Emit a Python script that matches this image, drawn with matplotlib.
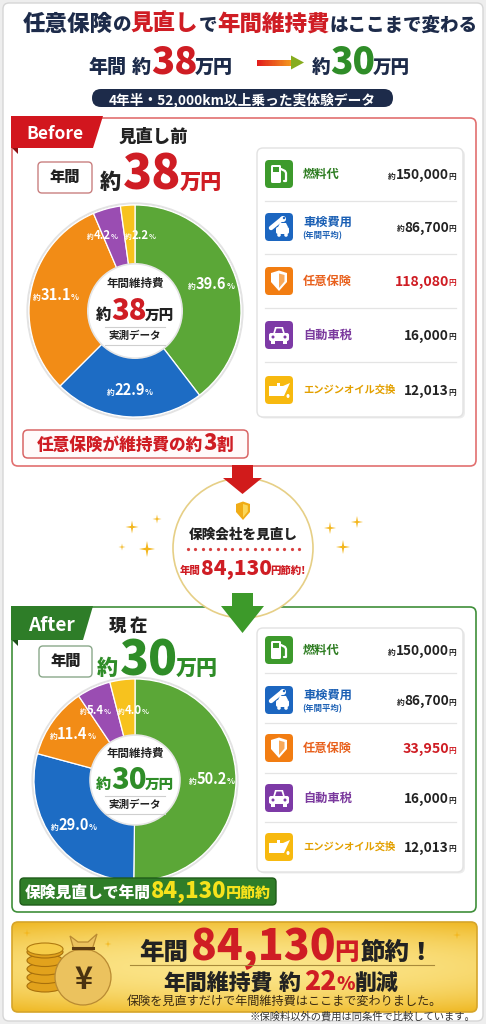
import matplotlib
matplotlib.use('Agg')
import matplotlib.pyplot as plt
from matplotlib.patches import FancyBboxPatch, Rectangle, Polygon, Circle, Ellipse
from matplotlib.colors import LinearSegmentedColormap
import numpy as np

W, H = 486, 1024
JP = ['Noto Sans CJK JP', 'DejaVu Sans']
plt.rcParams['font.family'] = JP

# ---------------- data ----------------
categories = ['燃料代', '車検費用', '任意保険', '自動車税', 'エンジンオイル交換']
category_note = ['', '(年間平均)', '', '', '']
before_costs = [150000, 86700, 118080, 16000, 12013]
after_costs = [150000, 86700, 33950, 16000, 12013]
cost_approx = [True, True, False, False, False]
before_share = [39.6, 22.9, 31.1, 4.2, 2.2]
after_share = [50.2, 29.0, 11.4, 5.4, 4.0]
before_total = '38'
after_total = '30'
saving = '84,130'
reduction = '22'
share_note = '3'

# ---------------- styles ----------------
NAVY = '#1d2b4a'
RED = '#cf1d24'
GREEN = '#2f8d28'
DARK = '#222222'
pie_colors = ['#5ba737', '#1d6cc4', '#f28c16', '#9a4db2', '#f7c21e']
icon_colors = ['#3d9a2c', '#1c66c0', '#f27d12', '#7d3aa6', '#f7b90f']
label_colors = ['#2e7d22', '#1a5fb4', '#e8601c', '#7b3a9e', '#e3a000']
icon_kinds = ['fuel', 'wrench', 'shield', 'car', 'oil']
HB = 'heavy'

fig = plt.figure(figsize=(W / 100, H / 100), dpi=100, facecolor='#eeeeee')
axb = fig.add_axes([0, 0, 1, 1], zorder=0)
axf = fig.add_axes([0, 0, 1, 1], zorder=2)
for a in (axb, axf):
    a.set_xlim(0, W); a.set_ylim(H, 0); a.axis('off')
    a.patch.set_alpha(0)
fig.canvas.draw()
R = fig.canvas.get_renderer()


def runs(x, y, parts, ha='center', width=None, va='baseline', ax=None, zorder=6):
    ax = ax or axf

    def make(sc):
        objs, ws = [], []
        for p in parts:
            if isinstance(p, (int, float)):
                objs.append(None); ws.append(p); continue
            t, s, c, w = p
            o = ax.text(0, y, t, fontsize=s * sc, color=c, fontweight=w, va=va,
                        ha='left', zorder=zorder, family=JP)
            objs.append(o)
            ws.append(o.get_window_extent(renderer=R).width)
        return objs, ws

    objs, ws = make(1.0)
    if width is not None:
        gaps = sum(w for o, w in zip(objs, ws) if o is None)
        tw = sum(w for o, w in zip(objs, ws) if o is not None)
        sc = (width - gaps) / tw
        for o in objs:
            if o is not None:
                o.remove()
        objs, ws = make(sc)
    total = sum(ws)
    x0 = x - total / 2 if ha == 'center' else (x - total if ha == 'right' else x)
    for o, w in zip(objs, ws):
        if o is not None:
            o.set_x(x0)
        x0 += w
    return objs


def rbox(ax, x0, y0, x1, y1, fc, ec, lw=1.0, r=5, z=1):
    p = FancyBboxPatch((x0, y0), x1 - x0, y1 - y0,
                       boxstyle=f'round,pad=0,rounding_size={r}',
                       fc=fc, ec=ec, lw=lw, zorder=z)
    ax.add_patch(p)
    return p


# ---------------- background card ----------------
rbox(axb, 3, 3, 483, 1021, 'white', '#d6d6d6', lw=1, r=6, z=0)

# ---------------- header ----------------
runs(250, 31, [('任意保険', 17, NAVY, HB), ('の', 14, NAVY, HB),
               ('見直し', 17, RED, HB), ('で', 14, NAVY, HB),
               ('年間維持費', 17, RED, HB), ('はここまで変わる', 14, NAVY, HB)],
     width=456)
runs(88, 73, [('年間', 14, NAVY, HB), 6, ('約', 14, NAVY, HB),
              ('38', 28, RED, HB), -3, ('万円', 14, NAVY, HB)], ha='left', width=145)
runs(312, 73, [('約', 14, NAVY, HB), ('30', 28, GREEN, HB), -3,
               ('万円', 14, NAVY, HB)], ha='left', width=98)
# gradient arrow
cm = LinearSegmentedColormap.from_list('ar', ['#e21d1d', '#f39a1e'])
n = 30
xs = np.linspace(257, 292, n + 1)
for i in range(n):
    axf.add_patch(Rectangle((xs[i], 59.5), xs[i + 1] - xs[i] + 0.3, 6,
                            fc=cm(i / (n - 1)), ec='none', zorder=4))
axf.add_patch(Polygon([(291, 55.5), (304, 62.5), (291, 69.5)], fc='#86ac1e', ec='none', zorder=4))
# pill
rbox(axb, 92, 89, 393, 107, NAVY, 'none', r=9, z=1)
runs(242, 98.5, [('4年半・52,000km以上乗った実体験データ', 9, 'white', 'bold')],
     va='center_baseline', width=266)


# ---------------- icons ----------------
def icon(kind, x, y, color, s=28):
    rbox(axf, x - s / 2, y - s / 2, x + s / 2, y + s / 2, color, 'none', r=4, z=3)
    wc = 'white'
    if kind == 'fuel':
        rbox(axf, x - 8, y - 9, x + 2, y + 9, wc, 'none', r=1.5, z=4)
        axf.add_patch(Rectangle((x - 6, y - 7), 6, 5, fc=color, ec='none', zorder=5))
        axf.plot([x + 2, x + 6, x + 7, x + 7, x + 5], [y - 5, y - 3, y - 1, y + 7, y + 7],
                 color=wc, lw=1.6, zorder=4, solid_capstyle='round')
    elif kind == 'wrench':
        axf.plot([x - 8, x + 3], [y + 1, y - 8], color=wc, lw=3.2, solid_capstyle='round', zorder=4)
        axf.add_patch(Circle((x + 4, y - 8), 3, fc=wc, ec='none', zorder=4))
        axf.add_patch(Circle((x + 5, y - 9), 1.2, fc=color, ec='none', zorder=5))
        rbox(axf, x - 3, y + 0, x + 10, y + 7, wc, 'none', r=2, z=4)
        axf.add_patch(Polygon([(x - 1, y), (x + 1, y - 4), (x + 7, y - 4), (x + 9, y)], fc=wc, zorder=4))
        axf.add_patch(Circle((x, y + 8), 1.8, fc=wc, zorder=4))
        axf.add_patch(Circle((x + 7, y + 8), 1.8, fc=wc, zorder=4))
    elif kind == 'shield':
        pts = [(x - 8, y - 8), (x, y - 10.5), (x + 8, y - 8), (x + 8, y + 1), (x, y + 10), (x - 8, y + 1)]
        axf.add_patch(Polygon(pts, fc=wc, ec='none', zorder=4))
        pts2 = [(x, y - 7.5), (x + 5.5, y - 6), (x + 5.5, y + 0.5), (x, y + 7)]
        axf.add_patch(Polygon(pts2, fc='#f8a95a', ec='none', zorder=5))
    elif kind == 'car':
        axf.add_patch(Polygon([(x - 6, y - 1), (x - 4, y - 8), (x + 4, y - 8), (x + 6, y - 1)], fc=wc, zorder=4))
        axf.add_patch(Polygon([(x - 4, y - 2), (x - 2.5, y - 6.5), (x + 2.5, y - 6.5), (x + 4, y - 2)],
                              fc=color, zorder=5))
        rbox(axf, x - 10, y - 2, x + 10, y + 6, wc, 'none', r=2, z=4)
        axf.add_patch(Rectangle((x - 8, y + 5), 4, 4, fc=wc, zorder=4))
        axf.add_patch(Rectangle((x + 4, y + 5), 4, 4, fc=wc, zorder=4))
        axf.add_patch(Circle((x - 6, y + 2), 1.5, fc=color, zorder=5))
        axf.add_patch(Circle((x + 6, y + 2), 1.5, fc=color, zorder=5))
    elif kind == 'oil':
        axf.add_patch(Polygon([(x - 10, y - 4), (x - 2, y - 4), (x - 2, y - 7), (x + 1, y - 7), (x + 1, y - 4),
                               (x + 4, y - 4), (x + 11, y - 7), (x + 5, y + 6), (x - 10, y + 6)],
                              fc=wc, ec='none', zorder=4))
        axf.add_patch(Ellipse((x + 9, y + 6), 3, 4, fc=wc, zorder=4))


def cost_list(top, bottom, centers, seps, costs, ins_color):
    rbox(axb, 259, top + 1.5, 465, bottom + 1.5, '#ececec', 'none', r=6, z=1)
    rbox(axb, 257, top, 463, bottom, 'white', '#e2e2e2', lw=1, r=6, z=2)
    for s in seps:
        axb.plot([265, 456], [s, s], color='#e4e4e4', lw=0.9, zorder=3)
    for i, cy in enumerate(centers):
        icon(icon_kinds[i], 279, cy, icon_colors[i])
        fs = 7.4 if len(categories[i]) > 6 else 8.8
        if category_note[i]:
            axf.text(303, cy - 5, categories[i], fontsize=fs, color=label_colors[i],
                     fontweight='bold', va='center', ha='left', zorder=6)
            axf.text(302, cy + 9, category_note[i], fontsize=6, color=label_colors[i],
                     fontweight='bold', va='center', ha='left', zorder=6)
        else:
            axf.text(303, cy, categories[i], fontsize=fs, color=label_colors[i],
                     fontweight='bold', va='center', ha='left', zorder=6)
        vc = ins_color if i == 2 else DARK
        parts = []
        if cost_approx[i]:
            parts.append(('約', 5.5, DARK, 'bold'))
        parts += [(f'{costs[i]:,}', 10.2 if i == 2 else 9.8, vc, 'bold'), -0.5, ('円', 5.5, vc, 'bold')]
        runs(456, cy + 4.5, parts, ha='right')


def donut(cx, cy, r, shares, total, tcol, ucol):
    m = 1.06
    pa = fig.add_axes([(cx - r * m) / W, 1 - (cy + r * m) / H, 2 * r * m / W, 2 * r * m / H], zorder=1)
    wedges, _ = pa.pie(shares, colors=pie_colors, startangle=90, counterclock=False, radius=1,
                       wedgeprops=dict(width=0.57, edgecolor='white', linewidth=0.9))
    pa.add_patch(Circle((0, 0), 1.015, fc='none', ec='#e3e3e3', lw=1.5, zorder=0))
    pa.add_patch(Circle((0, 0), 0.445, fc='white', ec='#e6e6e6', lw=1.2, zorder=3))
    pa.set_xlim(-m, m); pa.set_ylim(-m, m); pa.set_aspect('equal'); pa.axis('off')
    # labels
    pos = []
    for w, s in zip(wedges, shares):
        a = np.deg2rad((w.theta1 + w.theta2) / 2)
        rl = 0.76 * r
        pos.append([cx + rl * np.cos(a), cy - rl * np.sin(a)])
    small = [i for i, s in enumerate(shares) if s < 8]
    sep = 38
    for i, j in zip(small[:-1], small[1:]):
        d = pos[i][0] - pos[j][0]
        if abs(d) < sep:
            mid = (pos[i][0] + pos[j][0]) / 2
            sgn = 1 if d >= 0 else -1
            pos[i][0] = mid + sgn * sep / 2
            pos[j][0] = mid - sgn * sep / 2
            pos[i][1] = pos[j][1] = (pos[i][1] + pos[j][1]) / 2 + 3
    for (px, py), s in zip(pos, shares):
        big = s >= 8
        runs(px, py + 4, [('約', 5.5 if big else 4.8, 'white', 'bold'),
                          (f'{s:.1f}', 10.5 if big else 8.2, 'white', 'bold'),
                          ('%', 6 if big else 5.2, 'white', 'bold')])
    # centre text
    axf.text(cx, cy - 27, '年間維持費', fontsize=8.3, color=DARK, fontweight='bold',
             ha='center', va='center', zorder=6)
    runs(cx, cy + 9, [('約', 11, ucol, HB), (total, 21, tcol, HB), -2,
                      ('万円', 10.5, ucol, HB)], width=78)
    axf.plot([cx - 30, cx + 30], [cy + 16, cy + 16], color='#cfcfcf', lw=0.8, zorder=6)
    axf.plot([cx - 30, cx + 30], [cy + 34, cy + 34], color='#cfcfcf', lw=0.8, zorder=6)
    axf.text(cx, cy + 25, '実測データ', fontsize=7.6, color=DARK, fontweight='bold',
             ha='center', va='center', zorder=6)


# ---------------- BEFORE panel ----------------
rbox(axb, 12, 118, 476, 466, 'white', '#e27070', lw=1.2, r=6, z=1)
axf.add_patch(Polygon([(12, 148), (18, 148), (18, 154)], fc='#8c1014', ec='none', zorder=3))
axf.add_patch(Polygon([(11, 116), (103, 116), (93, 148), (11, 148)], fc='#d2161e', ec='none', zorder=3))
runs(55, 139, [('Before', 13, 'white', 'bold')], width=57)
axf.text(153, 137, '見直し前', fontsize=12.5, color=DARK, fontweight=HB, ha='center', va='center')
rbox(axf, 38, 162, 92, 193, 'white', '#c98080', lw=1, r=4, z=3)
axf.text(65, 177.5, '年間', fontsize=11, color=DARK, fontweight=HB, ha='center', va='center', zorder=6)
runs(100, 189, [('約', 15, DARK, HB), 2, (before_total, 34, RED, HB), -2,
                ('万円', 15, RED, HB)], ha='left', width=122)
donut(135, 311, 106, before_share, before_total, RED, DARK)
cost_list(148, 417, [174, 227, 281, 335, 390], [201, 254, 308, 362], before_costs, RED)
rbox(axf, 23, 430, 248, 458, '#fffafa', '#d96666', lw=1.1, r=5, z=3)
runs(135, 450, [('任意保険が維持費の約', 12, RED, HB), (share_note, 16, RED, HB),
                ('割', 12, RED, HB)], width=196)

# ---------------- middle ----------------
axf.add_patch(Circle((243, 548), 70, fc='white', ec='#e6cf86', lw=1.2, zorder=3))
axf.add_patch(Polygon([(232, 465), (253, 465), (253, 478), (262, 478), (242.5, 494), (223, 478), (232, 478)],
                      fc='#d11b1b', ec='none', zorder=4))
# shield
sx, sy = 243, 511
axf.add_patch(Polygon([(sx - 7, sy - 7), (sx, sy - 9.5), (sx + 7, sy - 7), (sx + 7, sy + 1), (sx, sy + 9),
                       (sx - 7, sy + 1)], fc='#f0ac16', ec='none', zorder=5))
axf.add_patch(Polygon([(sx, sy - 7), (sx + 4.8, sy - 5.5), (sx + 4.8, sy + 0.5), (sx, sy + 6.3)],
                      fc='#fbd75a', ec='none', zorder=6))
axf.text(243, 535, '保険会社を見直し', fontsize=9.8, color=DARK, fontweight=HB, ha='center',
         va='center', zorder=6)
axf.plot(np.linspace(188, 299, 16), np.full(16, 549), ls='none', marker='o', ms=1.3,
         color='#d84040', zorder=6)
runs(243, 574, [('年間', 8.5, RED, HB), (saving, 17, RED, HB), -1, ('円節約!', 8.5, RED, HB)],
     width=126)


def sparkle(x, y, s):
    ang = np.arange(8) * np.pi / 4 + np.pi / 2
    rr = np.where(np.arange(8) % 2 == 0, s, s * 0.22)
    axf.add_patch(Polygon(np.c_[x + rr * np.cos(ang), y - rr * np.sin(ang)], fc='#f3b61c', ec='none', zorder=5))


for (x, y, s) in [(132, 527, 6.5), (157, 519, 4.5), (122, 547, 3.5), (147, 549, 8),
                  (330, 528, 6), (357, 522, 6), (343, 547, 7)]:
    sparkle(x, y, s)

# ---------------- AFTER panel ----------------
rbox(axb, 12, 607, 476, 912, 'white', '#3f8f3a', lw=1.2, r=6, z=1)
axf.add_patch(Polygon([(12, 640), (18, 640), (18, 646)], fc='#1c4f18', ec='none', zorder=3))
axf.add_patch(Polygon([(11, 606), (93, 606), (83, 640), (11, 640)], fc='#2e7d28', ec='none', zorder=3))
axf.add_patch(Polygon([(232, 593), (253, 593), (253, 606), (264, 606), (242.5, 633), (221, 606), (232, 606)],
                      fc='#3d9a2a', ec='none', zorder=4))
runs(51, 631, [('After', 13, 'white', 'bold')], width=47)
runs(128, 631, [('現', 12.5, DARK, HB), 3, ('在', 12.5, DARK, HB)])
rbox(axf, 39, 646, 92, 677, 'white', '#8aa88a', lw=1, r=4, z=3)
axf.text(65.5, 661.5, '年間', fontsize=11, color=DARK, fontweight=HB, ha='center', va='center', zorder=6)
runs(97, 675, [('約', 15, GREEN, HB), 2, (after_total, 34, GREEN, HB), -2,
               ('万円', 15, GREEN, HB)], ha='left', width=121)
donut(135, 780, 101, after_share, after_total, GREEN, GREEN)
cost_list(628, 872, [650, 700, 748, 798, 847], [673, 723, 773, 822], after_costs, RED)
rbox(axf, 20, 878, 276, 905, '#2f7d28', '#1f5c1a', lw=1, r=4, z=3)
runs(148, 898, [('保険見直しで年間', 11, 'white', HB), (saving, 15.5, '#f6e21c', HB), -1,
                ('円節約', 10.5, '#f6e21c', HB)], width=246)

# ---------------- bottom banner ----------------
bx0, by0, bx1, by1 = 12, 922, 477, 1012
banner = rbox(axb, bx0, by0, bx1, by1, 'none', '#d6a52a', lw=1.2, r=6, z=3)
gx = np.linspace(-1, 1, 200)
gy = np.linspace(-1, 1, 60)
GX, GY = np.meshgrid(gx, gy)
G = np.clip(1 - 0.55 * (GX * 0.6) ** 2 - 0.6 * GY ** 2, 0, 1)
gcm = LinearSegmentedColormap.from_list('g', ['#efb824', '#fbe488'])
im = axb.imshow(G, cmap=gcm, extent=(bx0, bx1, by1, by0), aspect='auto', zorder=2, interpolation='bilinear')
clip = FancyBboxPatch((bx0, by0), bx1 - bx0, by1 - by0, boxstyle='round,pad=0,rounding_size=6',
                      fc='none', ec='none', transform=axb.transData)
axb.add_patch(clip)
im.set_clip_path(clip)
# coins
for i in range(5):
    yy = 986 - i * 8.5
    axf.add_patch(Ellipse((45, yy), 36, 12, fc='#e2a21c', ec='#a8700c', lw=0.8, zorder=4))
axf.add_patch(Ellipse((45, 949), 36, 12, fc='#f6cc48', ec='#b07a10', lw=0.8, zorder=4))
# bag
axf.add_patch(Ellipse((83, 977), 56, 56, fc='#ebc25e', ec='#b98a32', lw=0.9, zorder=5))
axf.add_patch(Polygon([(70, 936), (78, 942), (88, 942), (97, 934), (92, 950), (74, 950)],
                      fc='#ebc25e', ec='#b98a32', lw=0.9, zorder=5))
axf.plot([73, 93], [948, 948], color='#5a3a12', lw=2.2, zorder=6)
axf.text(83, 980, '¥', fontsize=22, color='#4a3210', fontweight='bold', ha='center', va='center', zorder=6)
for (x, y, s) in [(27, 933, 4), (108, 944, 3.5), (457, 935, 4)]:
    sparkle(x, y, s)
# texts
runs(287, 960, [('年間', 15, DARK, HB), 2, (saving, 26, RED, HB), -1,
                ('円', 15, RED, HB), 2, ('節約！', 15, DARK, HB)], width=295)
axf.plot([130, 434], [965, 965], color='#a88a3a', lw=0.8, zorder=6)
runs(281, 990, [('年間維持費', 14, DARK, HB), 6, ('約', 14, DARK, HB), 3,
                (reduction, 17, RED, HB), ('%', 12, RED, HB), ('削減', 14, DARK, HB)],
     width=236)
runs(284, 1004.5, [('保険を見直すだけで年間維持費はここまで変わりました。', 8.5, '#3a2a12', 'normal')],
     width=315)
runs(475, 1020, [('※保険料以外の費用は同条件で比較しています。', 7, '#333333', 'normal')],
     ha='right', width=227)

for a in (axb, axf):
    a.set_xlim(0, W); a.set_ylim(H, 0); a.set_aspect('auto')

fig.savefig('out.png', dpi=100, facecolor=fig.get_facecolor())
